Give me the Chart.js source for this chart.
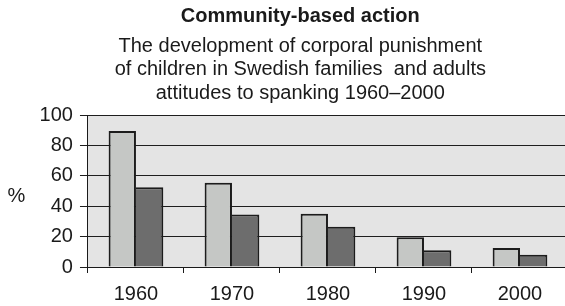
<!DOCTYPE html>
<html>
<head>
<meta charset="utf-8">
<script src="https://cdn.jsdelivr.net/npm/chart.js@4.4.1/dist/chart.umd.min.js"></script>
<style>
	html, body { margin: 0; padding: 0; background: #fff; overflow: hidden; }
	#wrap { width: 570px; height: 315px; }
</style>
</head>
<body>
<div id="wrap"><canvas id="spankingChart"></canvas></div>
<script>
var years = ['1960', '1970', '1980', '1990', '2000'];
var childrenSpanked = [89.5, 55.5, 35, 19.5, 12.5];
var adultsPositive = [52.5, 34.5, 26.5, 11, 8];
var yTicks = [0, 20, 40, 60, 80, 100];

var titleText = 'Community-based action';
var subtitleLines = [
	'The development of corporal punishment',
	'of children in Swedish families  and adults',
	'attitudes to spanking 1960\u20132000'
];
var yAxisLabel = '%';

var fontFamily = '"Liberation Sans", Arial, sans-serif';
var textColor = '#1a1a1a';

// grey plot background + the "%" label on the left
var plotBackground = {
	id: 'plotBackground',
	beforeDraw: function(c) {
		var a = c.chartArea;
		var ctx = c.ctx;
		ctx.save();
		ctx.fillStyle = '#e4e4e4';
		ctx.fillRect(a.left, a.top, a.right - a.left, a.bottom - a.top);
		ctx.restore();
	},
	afterDraw: function(c) {
		var ctx = c.ctx;
		ctx.save();
		ctx.font = '20px ' + fontFamily;
		ctx.fillStyle = textColor;
		ctx.textAlign = 'center';
		ctx.textBaseline = 'middle';
		ctx.fillText(yAxisLabel, 16.5, 196);
		ctx.restore();
	}
};

function renderChart(id) {
	var chart = document.getElementById(id);

	var options = {
		type: 'bar',
		data: {
			labels: years,
			datasets: [{
				label: 'Children spanked',
				data: childrenSpanked,
				backgroundColor: '#c5c7c5',
				borderColor: '#1c1c1c',
				borderSkipped: false,
				borderWidth: { top: 2, left: 2, right: 2, bottom: 0 }
			}, {
				label: 'Adults positive to spanking',
				data: adultsPositive,
				backgroundColor: '#6d6d6d',
				borderColor: '#1c1c1c',
				borderSkipped: false,
				// left edge is shared with the light bar's border
				borderWidth: { top: 2, left: 0, right: 2, bottom: 0 }
			}]
		},
		options: {
			responsive: true,
			maintainAspectRatio: false,
			animation: false,
			datasets: {
				bar: {
					categoryPercentage: 0.57,
					barPercentage: 1.0
				}
			},
			layout: {
				padding: { left: 32.6, right: 2, top: 0, bottom: 0 }
			},
			scales: {
				x: {
					offset: true,
					grid: {
						display: true,
						drawOnChartArea: false,
						drawTicks: true,
						tickLength: 6,
						color: '#1a1a1a',
						lineWidth: 1
					},
					border: { display: true, color: '#1a1a1a', width: 1 },
					ticks: {
						padding: 9,
						color: textColor,
						maxRotation: 0,
						font: { family: fontFamily, size: 20 }
					}
				},
				y: {
					min: 0,
					max: 100,
					afterBuildTicks: function(scale) {
						scale.ticks = yTicks.map(function(v) { return { value: v }; });
					},
					grid: {
						color: '#1e1e1e',
						lineWidth: 1,
						drawTicks: true,
						tickLength: 8
					},
					border: { display: true, color: '#1a1a1a', width: 1 },
					ticks: {
						padding: 7,
						color: textColor,
						font: { family: fontFamily, size: 20 }
					}
				}
			},
			plugins: {
				legend: { display: false },
				tooltip: { enabled: false },
				title: {
					display: true,
					text: titleText,
					color: textColor,
					font: { family: fontFamily, size: 20, weight: 'bold', lineHeight: 1.2 },
					padding: { top: 4, bottom: 6.7 }
				},
				subtitle: {
					display: true,
					text: subtitleLines,
					color: textColor,
					font: { family: fontFamily, size: 20, lineHeight: 1.1675 },
					padding: { top: 0, bottom: 10.25 }
				}
			}
		},
		plugins: [plotBackground]
	};

	new Chart(chart, options);
}

renderChart('spankingChart');
</script>
</body>
</html>
